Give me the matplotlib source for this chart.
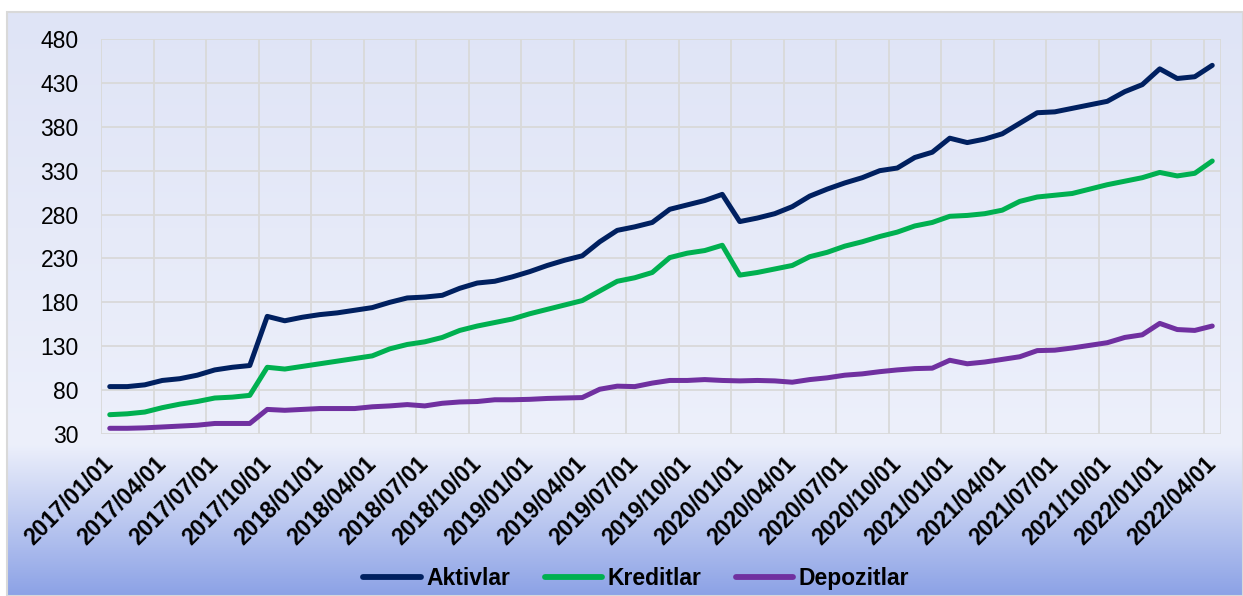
import numpy as np
import matplotlib
matplotlib.use('Agg')
import matplotlib.pyplot as plt
from matplotlib.patches import Rectangle

# Monthly dates, 2017/01 .. 2022/04
dates = ['{}/{:02d}/01'.format(2017 + m // 12, m % 12 + 1) for m in range(64)]

aktivlar = [84, 84, 86, 91, 93, 97, 103, 106, 108, 164, 159, 163, 166, 168, 171, 174,
            180, 185, 186, 188, 196, 202, 204, 209, 215, 222, 228, 233, 249, 262, 266, 271,
            286, 291, 296, 303, 272, 276, 281, 289, 301, 309, 316, 322, 330, 333, 345, 351,
            367, 362, 366, 372, 384, 396, 397, 401, 405, 409, 420, 428, 446, 435, 437, 450]
kreditlar = [52, 53, 55, 60, 64, 67, 71, 72, 74, 106, 104, 107, 110, 113, 116, 119,
             127, 132, 135, 140, 148, 153, 157, 161, 167, 172, 177, 182, 193, 204, 208, 214,
             231, 236, 239, 245, 211, 214, 218, 222, 232, 237, 244, 249, 255, 260, 267, 271,
             278, 279, 281, 285, 295, 300, 302, 304, 309, 314, 318, 322, 328, 324, 327, 341]
depozitlar = [36.5, 36.5, 37, 38, 39, 40, 42, 42, 42, 58, 57, 58, 59, 59, 59, 61,
              62, 63.5, 62, 65, 66.5, 67, 69, 69, 69.5, 70.5, 71, 71.5, 81, 84.5, 84, 88,
              91, 91, 92, 91, 90.5, 91, 90.5, 89, 92, 94, 97, 98.5, 101, 103, 104.5, 105,
              114, 110, 112, 115, 118, 125, 125.5, 128, 131, 134, 140, 143, 156, 149, 148, 153]

series = [('Aktivlar', aktivlar, '#002060'),
          ('Kreditlar', kreditlar, '#00B050'),
          ('Depozitlar', depozitlar, '#7030A0')]

yticks = list(range(30, 481, 50))

plt.rcParams['font.family'] = ['Liberation Sans', 'DejaVu Sans']

W, H = 1243, 596
fig = plt.figure(figsize=(W / 100, H / 100), dpi=100, facecolor='white')

# chart area background with vertical gradient
bg = fig.add_axes([7 / W, 0, 1 - 7 / W, (H - 12) / H])
stops = [0.0, 0.74, 1.0]
cols = np.array([[223, 228, 246], [237, 240, 251], [140, 162, 230]]) / 255.0
t = np.linspace(0, 1, 300)
grad = np.stack([np.interp(t, stops, cols[:, c]) for c in range(3)], axis=-1)[:, None, :]
bg.imshow(grad, aspect='auto', extent=[0, 1, 0, 1], interpolation='bilinear')
bg.set_xlim(0, 1)
bg.set_ylim(0, 1)
bg.axis('off')
bg.add_patch(Rectangle((0, 0), 1, 1, transform=bg.transAxes, fill=False,
                       edgecolor='#d9d9d9', linewidth=1.5, clip_on=False))

ax = fig.add_axes([101 / W, 1 - 434 / H, (1221 - 101) / W, (434 - 39) / H])
ax.set_facecolor('none')

x = np.arange(len(dates))
for name, vals, color in series:
    ax.plot(x, vals, color=color, linewidth=3.6, label=name,
            solid_capstyle='round', solid_joinstyle='round', zorder=3)

ax.set_xlim(-0.5, len(dates) - 0.5)
ax.set_ylim(30, 480)
ax.set_yticks(yticks)
ax.set_yticklabels([str(v) for v in yticks], fontsize=16.5)

major = list(range(0, len(dates), 3))
ax.set_xticks(major)
ax.set_xticklabels([dates[i] for i in major], rotation=45, ha='right', va='center',
                   rotation_mode='anchor', fontsize=16.5, fontweight='bold')
minor = list(np.arange(-0.5, len(dates), 3)) + [len(dates) - 0.5]
ax.set_xticks(minor, minor=True)

ax.tick_params(axis='y', length=0, pad=16)
ax.tick_params(axis='x', which='both', length=0, pad=19)
ax.grid(axis='y', which='major', color='#d9d9d9', linewidth=1.3)
ax.grid(axis='x', which='minor', color='#d9d9d9', linewidth=1.3)
ax.grid(axis='x', which='major', visible=False)
for s in ax.spines.values():
    s.set_visible(False)
ax.set_axisbelow(True)

leg = fig.legend(loc='center', bbox_to_anchor=(0.512, 0.029), ncol=3, frameon=False,
                 prop={'weight': 'bold', 'size': 16.5}, handlelength=2.5,
                 handletextpad=0.25, columnspacing=1.5)
for h in leg.legend_handles:
    h.set_linewidth(4.2)

fig.savefig('out.png', dpi=100)
